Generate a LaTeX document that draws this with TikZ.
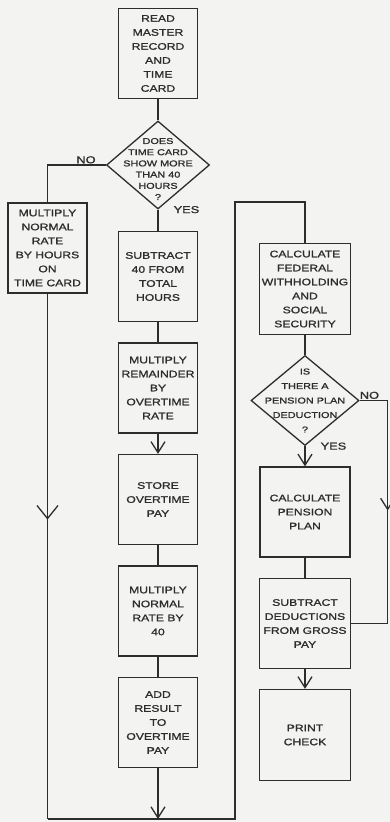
\documentclass[tikz,border=0pt]{standalone}
\usepackage{fontspec}
\setmainfont{Liberation Sans}[FakeStretch=1.28, FakeBold=1.2]
\usetikzlibrary{shapes, arrows.meta, positioning, decorations.markings}
\definecolor{paper}{RGB}{243,243,241}
\definecolor{ink}{RGB}{45,45,45}
\newcommand{\boxtext}{\fontsize{9.5pt}{14pt}\selectfont}
\newcommand{\qtext}[1]{\fontsize{8.5pt}{#1}\selectfont}
\newcommand{\answertext}{\fontsize{10pt}{12pt}\selectfont}
\tikzstyle{block} = [draw=ink, fill=paper, rectangle, minimum width=79pt, minimum height=90pt, align=center, inner sep=2pt, font=\boxtext]
\tikzstyle{decision} = [draw=ink, fill=paper, diamond, inner sep=0pt, minimum width=103pt, minimum height=88pt]
\tikzstyle{dtext} = [align=center, text=ink, inner sep=0pt]
\tikzstyle{answer} = [text=ink, font=\answertext, inner sep=1pt]
\tikzset{midarrow/.style={postaction={decorate, decoration={markings, mark=at position #1 with {\arrow{>}}}}}}

\begin{document}
\begin{tikzpicture}[auto, x=1pt, y=-1pt, node distance=111.5pt, line width=1.3pt, color=ink, >={Straight Barb[length=11pt,width=14pt]}]
    \useasboundingbox (0,0) rectangle (390,822);
    \fill [paper] (0,0) rectangle (390,822);

    % gross pay
    \node [block] (read) at (158,53.5) {READ\\MASTER\\RECORD\\AND\\TIME\\CARD};
    \node [decision, below of=read, label={[dtext, font=\qtext{11.2pt}, yshift=-4pt]center:{DOES\\TIME CARD\\SHOW MORE\\THAN 40\\HOURS\\?}}] (q1) {};
    \node [block] (mult1) at (47.5,248) {MULTIPLY\\NORMAL\\RATE\\BY HOURS\\ON\\TIME CARD};
    \node [block, below of=q1] (sub1) {SUBTRACT\\40 FROM\\TOTAL\\HOURS};
    \node [block, below of=sub1] (mulrem) {MULTIPLY\\REMAINDER\\BY\\OVERTIME\\RATE};
    \node [block, below of=mulrem] (store) {STORE\\OVERTIME\\PAY};
    \node [block, below of=store] (mul40) {MULTIPLY\\NORMAL\\RATE BY\\40};
    \node [block, below of=mul40] (addres) {ADD\\RESULT\\TO\\OVERTIME\\PAY};

    % deductions
    \node [block, minimum width=90pt, minimum height=91pt] (fed) at (305,289) {CALCULATE\\FEDERAL\\WITHHOLDING\\AND\\SOCIAL\\SECURITY};
    \node [decision, below of=fed, minimum width=108pt, minimum height=90pt, label={[dtext, font=\qtext{14.5pt}]center:{IS\\THERE A\\PENSION PLAN\\DEDUCTION\\?}}] (q2) {};
    \node [block, below of=q2, minimum width=90pt] (pens) {CALCULATE\\PENSION\\PLAN};
    \node [block, below of=pens, minimum width=91pt] (subded) {SUBTRACT\\DEDUCTIONS\\FROM GROSS\\PAY};
    \node [block, below of=subded, minimum width=91pt, minimum height=91pt] (print) {PRINT\\CHECK};

    \coordinate (bl) at (47.5,819);
    \coordinate (br) at (235,819);
    \coordinate (tr) at (235,202);

    \draw (read) -- (q1);
    \draw (q1.west) -| node [answer, pos=0.17, above] {NO} (mult1.north);
    \draw (q1.south) -- node [answer, at start, right=14pt] {YES} (sub1);
    \draw (sub1) -- (mulrem);
    \draw [->] (mulrem) -- (store);
    \draw (store) -- (mul40);
    \draw (mul40) -- (addres);
    \draw [->] (addres) -- (addres |- bl);
    \draw [midarrow=0.43, >={Straight Barb[length=13pt,width=21pt]}] (mult1) -- (bl);
    \draw (bl) -- (br) -- (tr) -| (fed.north);
    \draw (fed) -- (q2);
    \draw [->] (q2.south) -- node [answer, at start, right=14pt] {YES} (pens.north);
    \draw [midarrow=0.48] (q2.east) -- node [answer, pos=0.35, above] {NO} ++(28,0) |- (subded.east);
    \draw (pens) -- (subded);
    \draw [->] (subded) -- (print);
\end{tikzpicture}
\end{document}
